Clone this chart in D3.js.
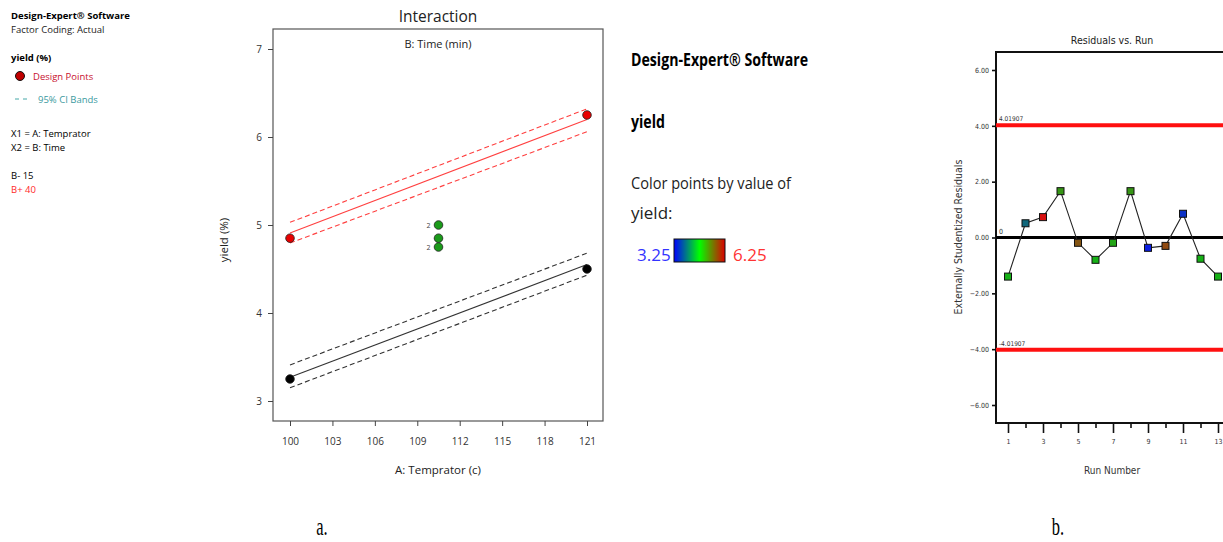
<!DOCTYPE html>
<html>
<head>
<meta charset="utf-8">
<script src="https://cdn.jsdelivr.net/npm/d3@7"></script>
<style>
  body { margin: 0; background: #fff; }
  svg { display: block; font-family: "Open Sans", "Noto Sans", sans-serif; }
</style>
</head>
<body>
<svg id="chart" width="1223" height="542"></svg>
<script>
// interaction plot (a)
const tempTicks = [100, 103, 106, 109, 112, 115, 118, 121];
const yieldTicks = [3, 4, 5, 6, 7];
const tempEnds = [100, 121];
const fitLow = [3.27, 4.55];        // B- 15
const ciLowUpper = [3.41, 4.68];
const ciLowLower = [3.15, 4.43];
const fitHigh = [4.91, 6.20];       // B+ 40
const ciHighUpper = [5.03, 6.32];
const ciHighLower = [4.795, 6.06];
const pointTemp = [100, 121, 100, 121, 110.5, 110.5, 110.5];
const pointYield = [3.25, 4.5, 4.85, 6.25, 5.0, 4.85, 4.75];
const pointGroup = ["low", "low", "high", "high", "center", "center", "center"];
const pointCount = [1, 1, 1, 1, 2, 1, 2];

// residuals vs run (b)
const runs = [1, 2, 3, 4, 5, 6, 7, 8, 9, 10, 11, 12, 13];
const residuals = [-1.40, 0.51, 0.73, 1.66, -0.19, -0.80, -0.19, 1.66, -0.37, -0.30, 0.85, -0.76, -1.40];
const runYield = [4.75, 4.0, 6.25, 5.0, 5.6, 4.75, 4.85, 5.0, 3.25, 5.7, 3.45, 4.75, 4.75];
const runTicks = [1, 3, 5, 7, 9, 11, 13];
const residTicks = [-6, -4, -2, 0, 2, 4, 6];
const limit = 4.01907;

const svg = d3.select("#chart");

// ---------- left legend ----------
const leg = svg.append("g").style("font-size", "9.5px");
leg.append("text").attr("x", 11).attr("y", 19).style("font-weight", "bold").text("Design-Expert® Software");
leg.append("text").attr("x", 11).attr("y", 33).attr("fill", "#222").text("Factor Coding: Actual");
leg.append("text").attr("x", 11).attr("y", 61).style("font-weight", "bold").text("yield (%)");
leg.append("circle").attr("cx", 20).attr("cy", 76).attr("r", 4.5).attr("fill", "#c00000").attr("stroke", "#111");
leg.append("text").attr("x", 33).attr("y", 80).attr("fill", "#c8102e").text("Design Points");
leg.append("line").attr("x1", 15).attr("x2", 30).attr("y1", 99).attr("y2", 99)
  .attr("stroke", "#46a8a8").attr("stroke-dasharray", "4,4");
leg.append("text").attr("x", 38).attr("y", 103).attr("fill", "#3a9aa0").text("95% CI Bands");
leg.append("text").attr("x", 11).attr("y", 137).text("X1 = A: Temprator");
leg.append("text").attr("x", 11).attr("y", 151).text("X2 = B: Time");
leg.append("text").attr("x", 11).attr("y", 179).text("B- 15");
leg.append("text").attr("x", 11).attr("y", 193).attr("fill", "#ff2a2a").text("B+ 40");

// ---------- interaction plot ----------
const x = d3.scaleLinear().domain([100, 121]).range([290, 587]);
const y = d3.scaleLinear().domain([3, 7]).range([401, 49]);
const frame = {left: 273, right: 603, top: 29, bottom: 421};

const pa = svg.append("g");
pa.append("rect").attr("x", frame.left).attr("y", frame.top)
  .attr("width", frame.right - frame.left).attr("height", frame.bottom - frame.top)
  .attr("fill", "none").attr("stroke", "#555").attr("stroke-width", 1.2);

const xAxis = pa.append("g").attr("transform", "translate(0," + frame.bottom + ")")
  .call(d3.axisBottom(x).tickValues(tempTicks).tickSize(5).tickPadding(12).tickFormat(d3.format("d")));
const yAxis = pa.append("g").attr("transform", "translate(" + frame.left + ",0)")
  .call(d3.axisLeft(y).tickValues(yieldTicks).tickSize(5).tickPadding(6).tickFormat(d3.format("d")));
[xAxis, yAxis].forEach(a => {
  a.select(".domain").remove();
  a.selectAll("line").attr("stroke", "#444");
  a.selectAll("text").attr("fill", "#333").style("font-size", "10px").style("font-family", "'Open Sans', sans-serif");
});

pa.append("text").attr("x", 438).attr("y", 22).attr("text-anchor", "middle")
  .style("font-size", "15.5px").attr("fill", "#222").text("Interaction");
pa.append("text").attr("x", 438).attr("y", 48).attr("text-anchor", "middle")
  .style("font-size", "11px").attr("fill", "#222").text("B: Time (min)");
pa.append("text").attr("x", 438).attr("y", 474).attr("text-anchor", "middle")
  .style("font-size", "11.5px").attr("fill", "#222").text("A: Temprator (c)");
pa.append("text").attr("transform", "translate(228,240) rotate(-90)").attr("text-anchor", "middle")
  .style("font-size", "11.5px").attr("fill", "#222").text("yield (%)");

const line = d3.line().x((d, i) => x(tempEnds[i])).y(d => y(d));
const series = [
  {vals: ciLowUpper, color: "#333", dash: "5,3"},
  {vals: fitLow, color: "#333", dash: null},
  {vals: ciLowLower, color: "#333", dash: "5,3"},
  {vals: ciHighUpper, color: "#ff4040", dash: "5,3"},
  {vals: fitHigh, color: "#ff4040", dash: null},
  {vals: ciHighLower, color: "#ff4040", dash: "5,3"}
];
series.forEach(s => {
  pa.append("path").attr("d", line(s.vals)).attr("fill", "none")
    .attr("stroke", s.color).attr("stroke-width", 1.1)
    .attr("stroke-dasharray", s.dash);
});

const groupColor = {low: "#000", high: "#e80000", center: "#1a9a1a"};
pointTemp.forEach((t, i) => {
  pa.append("circle").attr("cx", x(t)).attr("cy", y(pointYield[i])).attr("r", 4.3)
    .attr("fill", groupColor[pointGroup[i]]).attr("stroke", "#222").attr("stroke-width", 0.8);
  if (pointCount[i] > 1) {
    pa.append("text").attr("x", x(t) - 8).attr("y", y(pointYield[i]) + 2.5).attr("text-anchor", "end")
      .style("font-size", "7px").attr("fill", "#444").text(pointCount[i]);
  }
});

// ---------- middle legend ----------
const ml = svg.append("g").style("font-size", "17px");
ml.append("text").attr("x", 631).attr("y", 66).style("font-weight", "bold")
  .attr("textLength", 177).attr("lengthAdjust", "spacingAndGlyphs").text("Design-Expert® Software");
ml.append("text").attr("x", 631).attr("y", 128).style("font-weight", "bold")
  .attr("textLength", 34).attr("lengthAdjust", "spacingAndGlyphs").text("yield");
ml.append("text").attr("x", 631).attr("y", 189).attr("fill", "#222")
  .attr("textLength", 160).attr("lengthAdjust", "spacingAndGlyphs").text("Color points by value of");
ml.append("text").attr("x", 631).attr("y", 219).attr("fill", "#222").text("yield:");
const grad = svg.append("defs").append("linearGradient").attr("id", "yg");
grad.append("stop").attr("offset", "0%").attr("stop-color", "#0000ff");
grad.append("stop").attr("offset", "50%").attr("stop-color", "#00ff00");
grad.append("stop").attr("offset", "100%").attr("stop-color", "#dd0000");
ml.append("rect").attr("x", 674).attr("y", 239).attr("width", 51).attr("height", 23)
  .attr("fill", "url(#yg)").attr("stroke", "#111").attr("stroke-width", 1);
ml.append("text").attr("x", 637).attr("y", 261).attr("fill", "#3333ff").text("3.25");
ml.append("text").attr("x", 733).attr("y", 261).attr("fill", "#ff3333").text("6.25");

// ---------- residuals vs run ----------
const rx = d3.scaleLinear().domain([1, 13]).range([1008, 1218]);
const ry = d3.scaleLinear().domain([-6, 6]).range([405, 70]);
const colorBy = d3.scaleLinear().domain([3.25, 4.75, 6.25]).range(["#0a1ee0", "#16b016", "#d81010"]);
const rf = {left: 996, top: 52, bottom: 423, right: 1240};
const narrow = "'Liberation Sans Narrow', 'DejaVu Sans Condensed', sans-serif";

const pb = svg.append("g").style("font-family", narrow);
pb.append("rect").attr("x", rf.left).attr("y", rf.top)
  .attr("width", rf.right - rf.left).attr("height", rf.bottom - rf.top)
  .attr("fill", "none").attr("stroke", "#111").attr("stroke-width", 2);

const rxAxis = pb.append("g").attr("transform", "translate(0," + (rf.bottom + 1) + ")")
  .call(d3.axisBottom(rx).tickValues(d3.range(1, 15)).tickSize(4).tickFormat(""));
rxAxis.selectAll(".tick line").attr("y2", d => d % 2 ? 9 : 4).attr("stroke-width", 1.6);
const rxLab = pb.append("g").attr("transform", "translate(0," + rf.bottom + ")")
  .call(d3.axisBottom(rx).tickValues(runTicks).tickSize(0).tickPadding(16));
const ryAxis = pb.append("g").attr("transform", "translate(" + rf.left + ",0)")
  .call(d3.axisLeft(ry).tickValues(residTicks).tickSize(4).tickPadding(3).tickFormat(d3.format(".2f")));
[rxAxis, rxLab, ryAxis].forEach(a => {
  a.select(".domain").remove();
  a.selectAll("line").attr("stroke", "#111").attr("stroke-width", 1.6);
  a.selectAll("text").attr("fill", "#333").style("font-size", "7px").style("font-family", narrow);
});

pb.append("text").attr("x", 1112).attr("y", 44).attr("text-anchor", "middle")
  .style("font-size", "10.5px").attr("fill", "#222").text("Residuals vs. Run");
pb.append("text").attr("x", 1112).attr("y", 474).attr("text-anchor", "middle")
  .style("font-size", "10px").attr("fill", "#333").text("Run Number");
pb.append("text").attr("transform", "translate(962,237) rotate(-90)").attr("text-anchor", "middle")
  .style("font-size", "10.5px").attr("fill", "#333").text("Externally Studentized Residuals");

[limit, -limit].forEach(v => {
  pb.append("line").attr("x1", rf.left).attr("x2", 1223).attr("y1", ry(v)).attr("y2", ry(v))
    .attr("stroke", "#ff1010").attr("stroke-width", 4);
  pb.append("text").attr("x", rf.left + 3).attr("y", ry(v) - 4)
    .style("font-size", "6.5px").attr("fill", "#333").text(v.toFixed(5).replace(/0+$/, ""));
});
pb.append("line").attr("x1", rf.left).attr("x2", 1223).attr("y1", ry(0)).attr("y2", ry(0))
  .attr("stroke", "#000").attr("stroke-width", 3);
pb.append("text").attr("x", rf.left + 3).attr("y", ry(0) - 4)
  .style("font-size", "7px").attr("fill", "#333").text("0");

pb.append("path").datum(residuals)
  .attr("d", d3.line().x((d, i) => rx(runs[i])).y(d => ry(d)))
  .attr("fill", "none").attr("stroke", "#222").attr("stroke-width", 1.1);
pb.selectAll("rect.pt").data(residuals).join("rect").attr("class", "pt")
  .attr("x", (d, i) => rx(runs[i]) - 3.5).attr("y", d => ry(d) - 3.5)
  .attr("width", 7).attr("height", 7)
  .attr("fill", (d, i) => colorBy(runYield[i])).attr("stroke", "#111").attr("stroke-width", 1);

// ---------- panel captions ----------
const serif = "'Liberation Serif', 'DejaVu Serif', serif";
svg.append("text").attr("transform", "translate(322,535) scale(0.75,1.15)").attr("text-anchor", "middle")
  .style("font-family", serif).style("font-size", "22px").text("a.");
svg.append("text").attr("transform", "translate(1058,535) scale(0.75,1.15)").attr("text-anchor", "middle")
  .style("font-family", serif).style("font-size", "22px").text("b.");
</script>
</body>
</html>
